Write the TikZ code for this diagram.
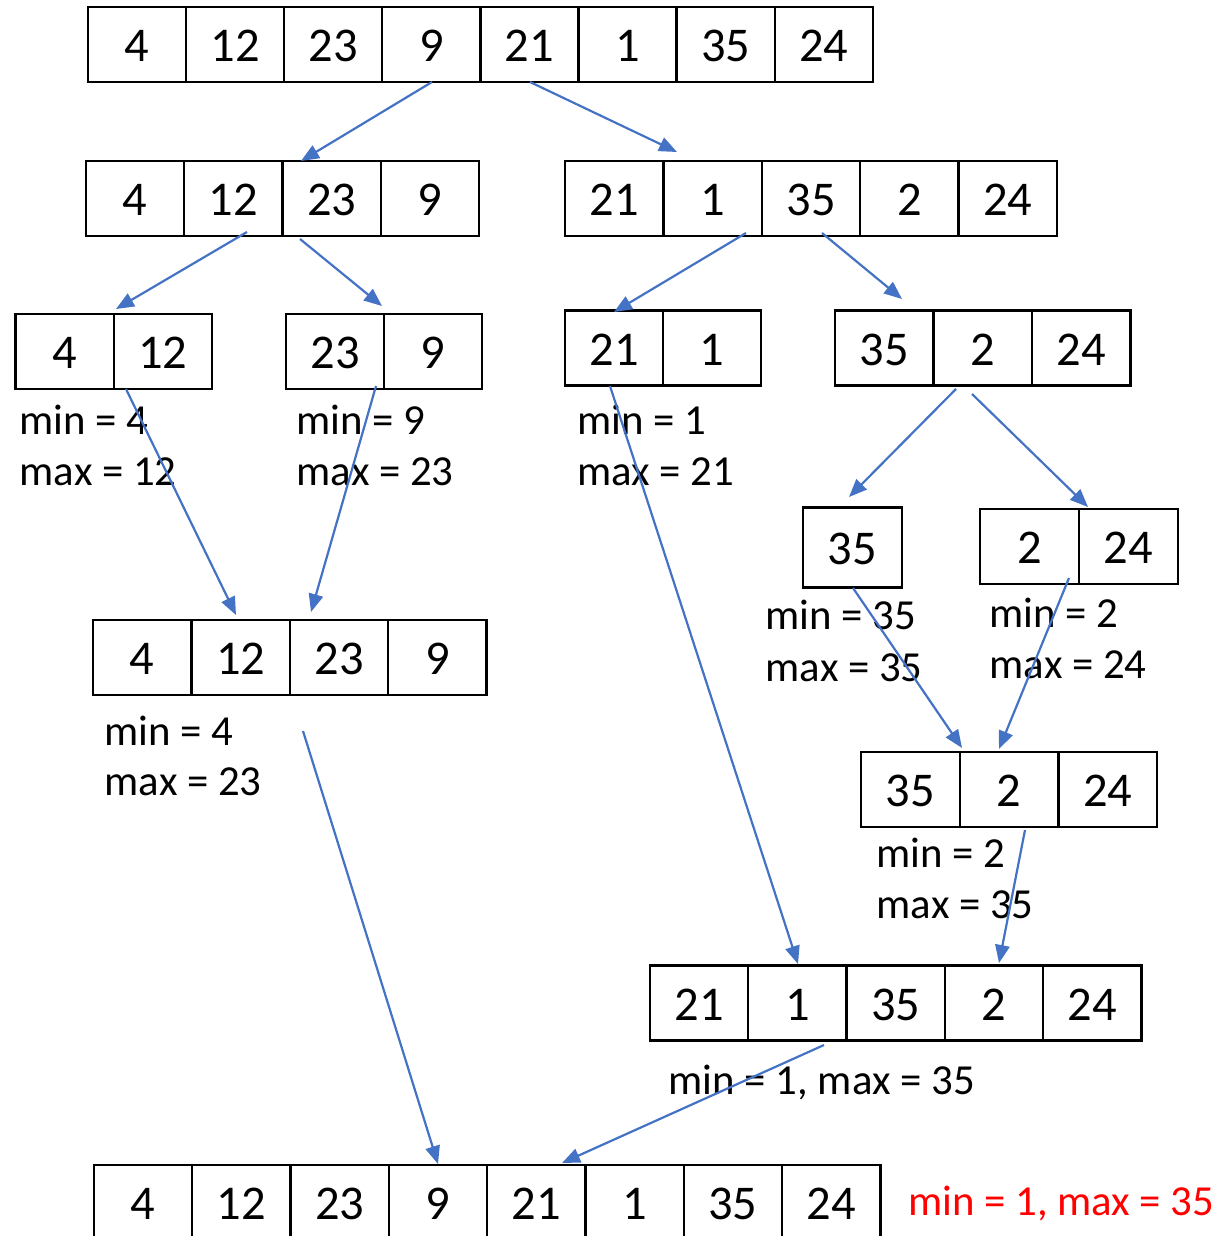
\documentclass[tikz,border=0pt]{standalone}
\usepackage{fontspec}
\setmainfont{Carlito}
\usetikzlibrary{arrows.meta}
\definecolor{arrowblue}{HTML}{4472C4}
\definecolor{labelred}{HTML}{FF0000}
\tikzset{
  cell/.style={draw=black, line width=2.3pt, minimum height=75pt, inner sep=0pt,
    text height=34.5pt, text depth=0pt, font=\fontsize{48.5}{58}\selectfont},
  lbl/.style={anchor=base west, inner sep=0pt, font=\fontsize{42.8}{50}\selectfont},
  link/.style={draw=arrowblue, line width=2.2pt, -{Triangle[length=18pt,width=14.5pt]}},
}
\newcommand\cellarray[6][75]{%
  \foreach \v [count=\i] in {#6} {
    \node[cell, minimum width=#4pt, minimum height=#1pt] (#2\i) at ({#3+(\i-0.5)*#4}, #5) {\v};
  }%
}
\begin{document}
\begin{tikzpicture}[x=1pt, y=-1pt]
\useasboundingbox (0,0) rectangle (1214,1236);

% arrays
\cellarray{A}{88}{98.1}{44.5}{4,12,23,9,21,1,35,24}
\cellarray{B}{86}{98.25}{198.5}{4,12,23,9}
\cellarray{C}{565}{98.4}{198.5}{21,1,35,2,24}
\cellarray{D}{15.5}{98.2}{351.5}{4,12}
\cellarray{E}{286}{98}{351.5}{23,9}
\cellarray{F}{565}{98}{348}{21,1}
\cellarray{G}{835}{98.5}{348}{35,2,24}
\cellarray[80]{H}{803}{99}{547.5}{35}
\cellarray{I}{980}{99}{546.5}{2,24}
\cellarray{J}{93}{98.4}{657.5}{4,12,23,9}
\cellarray{K}{861}{98.7}{789.5}{35,2,24}
\cellarray{L}{650}{98.3}{1003}{21,1,35,2,24}
\cellarray{M}{94}{98.3}{1202.5}{4,12,23,9,21,1,35,24}

% labels
\node[lbl] (dmin) at (19.5,434) {min = 4};
\node[lbl] (dmax) at (19.5,485) {max = 12};
\node[lbl] (emin) at (296.5,434) {min = 9};
\node[lbl] (emax) at (296.5,485) {max = 23};
\node[lbl] (fmin) at (577,434) {min = 1};
\node[lbl] (fmax) at (577,485) {max = 21};
\node[lbl] (hmin) at (765.5,629) {min = 35};
\node[lbl] (hmax) at (765.5,681) {max = 35};
\node[lbl] (imin) at (989.5,627) {min = 2};
\node[lbl] (imax) at (989.5,678) {max = 24};
\node[lbl] (jmin) at (104.5,745) {min = 4};
\node[lbl] (jmax) at (104.5,795) {max = 23};
\node[lbl] (kmin) at (876.5,867) {min = 2};
\node[lbl] (kmax) at (876.5,918) {max = 35};
\node[lbl] (lmm) at (668.5,1094) {min = 1, max = 35};
\node[lbl, text=labelred] (final) at (908,1215) {min = 1, max = 35};

% connector end points
\coordinate (s1) at (432,82);   \coordinate (t1) at (301,161);
\coordinate (s2) at (530,82);   \coordinate (t2) at (677,152);
\coordinate (s3) at (247,232);  \coordinate (t3) at (116,309);
\coordinate (s4) at (300,239);  \coordinate (t4) at (382,306);
\coordinate (s5) at (746,233);  \coordinate (t5) at (614,312);
\coordinate (s6) at (822,233);  \coordinate (t6) at (902,299);
\coordinate (s7) at (956,389);  \coordinate (t7) at (849,497);
\coordinate (s8) at (972,394);  \coordinate (t8) at (1088,507);
\coordinate (s9) at (126,389);  \coordinate (t9) at (236,615);
\coordinate (s10) at (376,386); \coordinate (t10) at (311,612);
\coordinate (s11) at (610,386); \coordinate (t11) at (798,964);
\coordinate (s12) at (853,588); \coordinate (t12) at (962,748);
\coordinate (s13) at (1069,578);\coordinate (t13) at (999,749);
\coordinate (s14) at (1025,830);\coordinate (t14) at (999,963);
\coordinate (s15) at (303,731); \coordinate (t15) at (438,1164);
\coordinate (s16) at (824,1045);\coordinate (t16) at (562,1163);

\foreach \k in {1,...,16} { \draw[link] (s\k) -- (t\k); }
\end{tikzpicture}
\end{document}
